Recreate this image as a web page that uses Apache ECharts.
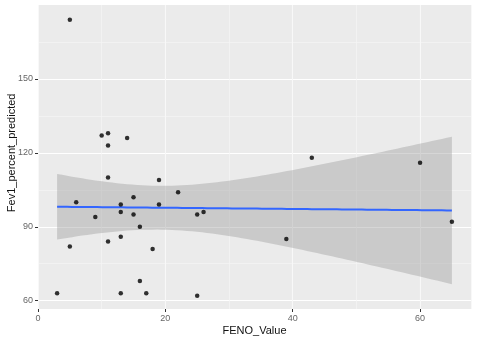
<!DOCTYPE html>
<html><head><meta charset="utf-8">
<script src="https://cdn.jsdelivr.net/npm/echarts@6/dist/echarts.min.js"></script>
<style>html,body{margin:0;padding:0;background:#fff}#c{width:480px;height:340px}</style>
</head><body><div id="c"></div>
<script>
// Data
var fenoValue = [5,3,5,6,9,10,11,11,11,11,13,13,13,13,14,15,15,16,16,17,18,19,19,22,25,25,26,39,43,60,65];
var fev1Pct   = [174,63,82,100,94,127,128,123,110,84,99,96,86,63,126,102,95,90,68,63,81,109,99,104,95,62,96,85,118,116,92];
var xTicks = [0,20,40,60];
var yTicks = [60,90,120,150];
var xTitle = 'FENO_Value';
var yTitle = 'Fev1_percent_predicted';

// Linear model fit (like geom_smooth(method="lm")) with 95% CI
var n = fenoValue.length;
var xbar = fenoValue.reduce(function(s,v){return s+v;},0)/n;
var ybar = fev1Pct.reduce(function(s,v){return s+v;},0)/n;
var sxx=0, sxy=0;
for (var i=0;i<n;i++){ sxx+=(fenoValue[i]-xbar)*(fenoValue[i]-xbar); sxy+=(fenoValue[i]-xbar)*(fev1Pct[i]-ybar); }
var slope = sxy/sxx, icpt = ybar - slope*xbar;
var sse=0;
for (var i=0;i<n;i++){ var r=fev1Pct[i]-(icpt+slope*fenoValue[i]); sse+=r*r; }
var sRes = Math.sqrt(sse/(n-2));
var tCrit = 2.045;
var xmin = Math.min.apply(null,fenoValue), xmax = Math.max.apply(null,fenoValue);
var fitLine=[], bandUpper=[], bandLower=[];
for (var k=0;k<80;k++){
  var x0 = xmin + (xmax-xmin)*k/79;
  var y0 = icpt + slope*x0;
  var se = sRes*Math.sqrt(1/n + (x0-xbar)*(x0-xbar)/sxx);
  fitLine.push([x0,y0]); bandUpper.push([x0,y0+tCrit*se]); bandLower.push([x0,y0-tCrit*se]);
}
var pts = fenoValue.map(function(v,i){return [v,fev1Pct[i]];});

var FONT = 'Liberation Sans, Arial, sans-serif';
var chart = echarts.init(document.getElementById('c'), null, {renderer:'canvas'});
chart.setOption({
  animation:false,
  backgroundColor:'#ffffff',
  grid:[
    {left:38,right:9,top:5,bottom:31,show:true,backgroundColor:'#EBEBEB',borderWidth:0,outerBoundsMode:'none',containLabel:false},
    {left:38,right:9,top:5,bottom:39.3,show:false,outerBoundsMode:'none',containLabel:false}
  ],
  xAxis:[
    {gridIndex:0,type:'value',min:0,max:68,interval:20,
     axisLine:{show:false},
     axisTick:{show:true,length:3,lineStyle:{color:'#333',width:1},customValues:xTicks},
     axisLabel:{show:true,margin:5,color:'#666',fontSize:9,fontFamily:FONT,customValues:xTicks},
     splitLine:{show:true,lineStyle:{color:'#ffffff',width:1.1}},
     name:xTitle,nameLocation:'middle',nameGap:16,nameMoveOverlap:false,
     nameTextStyle:{color:'#111',fontSize:11,fontFamily:FONT}},
    {gridIndex:0,type:'value',min:0,max:68,interval:10,show:true,
     axisLine:{show:false},axisTick:{show:false},axisLabel:{show:false},
     splitLine:{show:true,lineStyle:{color:'#F5F5F5',width:0.7}}},
    {gridIndex:1,type:'value',min:0,max:68,show:false}
  ],
  yAxis:[
    {gridIndex:0,type:'value',min:0,max:1,show:false,splitLine:{show:false}},
    {gridIndex:1,type:'value',min:60,max:180,interval:30,
     axisLine:{show:false},
     axisTick:{show:true,length:3,lineStyle:{color:'#333',width:1},customValues:yTicks},
     axisLabel:{show:true,margin:5,color:'#666',fontSize:9,fontFamily:FONT,customValues:yTicks},
     splitLine:{show:true,lineStyle:{color:'#ffffff',width:1.1}},
     minorTick:{show:false,splitNumber:2},
     minorSplitLine:{show:true,lineStyle:{color:'#F5F5F5',width:0.7}},
     name:yTitle,nameLocation:'middle',nameGap:21,nameMoveOverlap:false,
     nameTextStyle:{color:'#111',fontSize:11,fontFamily:FONT}}
  ],
  series:[
    {type:'custom',xAxisIndex:2,yAxisIndex:1,data:[0],silent:true,z:2,
     renderItem:function(params,api){
       var poly=[];
       bandUpper.forEach(function(p){poly.push(api.coord(p));});
       for (var j=bandLower.length-1;j>=0;j--) poly.push(api.coord(bandLower[j]));
       return {type:'polygon',shape:{points:poly},style:{fill:'rgba(153,153,153,0.4)',stroke:null}};
     }},
    {type:'line',xAxisIndex:2,yAxisIndex:1,data:fitLine,showSymbol:false,symbol:'none',
     lineStyle:{color:'#3366FF',width:2},z:3,silent:true},
    {type:'scatter',xAxisIndex:2,yAxisIndex:1,data:pts,symbol:'circle',symbolSize:4.5,
     itemStyle:{color:'#000000'},z:4,silent:true}
  ]
});
</script></body></html>
